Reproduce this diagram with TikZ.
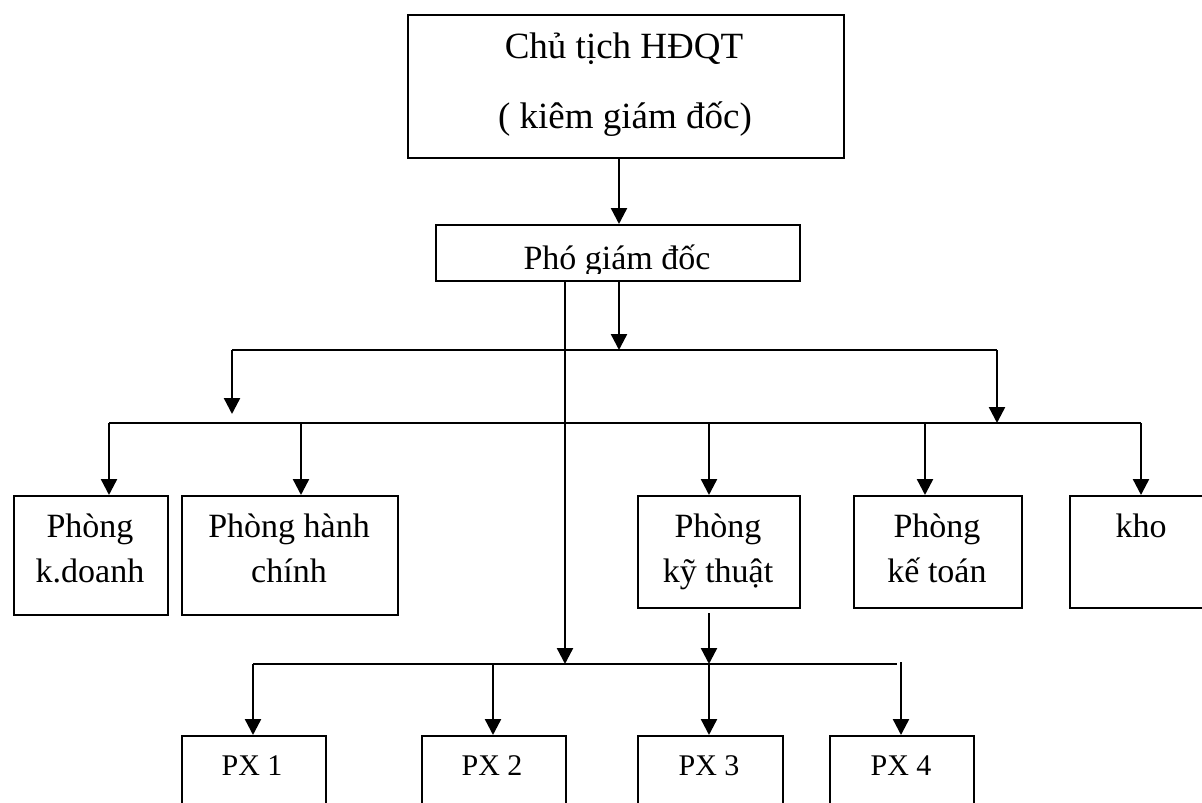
\documentclass[tikz,border=0pt]{standalone}
\usepackage{fontspec}
\setmainfont{Liberation Serif}
\usetikzlibrary{arrows.meta}
\begin{document}
\begin{tikzpicture}[x=1pt,y=-1pt,
  box/.style={draw, line width=2.4pt, anchor=north west, inner sep=0pt},
  lbl/.style={anchor=base, inner sep=0pt, font=\fontsize{34}{40}\selectfont},
  big/.style={anchor=base, inner sep=0pt, font=\fontsize{37}{44}\selectfont},
  small/.style={anchor=base, inner sep=0pt, font=\fontsize{30}{36}\selectfont},
  line/.style={line width=2.4pt},
  arr/.style={line width=2.4pt, -{Triangle[length=16pt,width=16pt]}}]
\useasboundingbox (0,0) rectangle (1202,803);
\clip (0,0) rectangle (1202,803);

% ---------- boxes ----------
\node[box, minimum width=436pt, minimum height=143pt] (chu) at (407,14) {};
\node[box, minimum width=364pt, minimum height=56pt] (pho) at (435,224) {};
\node[box, minimum width=154pt, minimum height=119pt] (kd) at (13,495) {};
\node[box, minimum width=216pt, minimum height=119pt] (hc) at (181,495) {};
\node[box, minimum width=162pt, minimum height=112pt] (kt) at (637,495) {};
\node[box, minimum width=168pt, minimum height=112pt] (kto) at (853,495) {};
\node[box, minimum width=150pt, minimum height=112pt] (kho) at (1069,495) {};
\node[box, minimum width=144pt, minimum height=100pt] (px1) at (181,735) {};
\node[box, minimum width=144pt, minimum height=100pt] (px2) at (421,735) {};
\node[box, minimum width=145pt, minimum height=100pt] (px3) at (637,735) {};
\node[box, minimum width=144pt, minimum height=100pt] (px4) at (829,735) {};

% ---------- texts ----------
\node[big] (tchu1) at (624,58) {Chủ tịch HĐQT};
\node[big] (tchu2) at (625,128) {( kiêm giám đốc)};
\begin{scope}
  % the text frame cuts off the descenders of this line
  \clip (437,226) rectangle (797,273);
  \node[lbl] (tpho) at (617,269) {Phó giám đốc};
\end{scope}
\node[lbl] (tkd1) at (90,537) {Phòng};
\node[lbl] (tkd2) at (90,582) {k.doanh};
\node[lbl] (thc1) at (289,537) {Phòng hành};
\node[lbl] (thc2) at (289,582) {chính};
\node[lbl] (tkt1) at (718,537) {Phòng};
\node[lbl] (tkt2) at (718,582) {kỹ thuật};
\node[lbl] (tkto1) at (937,537) {Phòng};
\node[lbl] (tkto2) at (937,582) {kế toán};
\node[lbl] (tkho) at (1141,537) {kho};
\node[small] (tpx1) at (252,775) {PX 1};
\node[small] (tpx2) at (492,775) {PX 2};
\node[small] (tpx3) at (709,775) {PX 3};
\node[small] (tpx4) at (901,775) {PX 4};

% ---------- junction points ----------
\coordinate (b1L) at (232,350);
\coordinate (b1R) at (997,350);
\coordinate (b1M) at (619,350);
\coordinate (b2L) at (109,423);
\coordinate (b2R) at (1141,423);
\coordinate (b1Ld) at (232,414);
\coordinate (b3L) at (253,664);
\coordinate (b3R) at (897,664);
\coordinate (b3a) at (565,664);
\coordinate (b3b) at (709,664);
\coordinate (c493) at (493,664);
\coordinate (c901) at (901,662);
\coordinate (c301) at (301,423);
\coordinate (c709) at (709,423);
\coordinate (c925) at (925,423);
\coordinate (ktout) at (709,613);

% ---------- connectors ----------
\draw[arr] (b1M |- chu.south) -- (b1M |- pho.north);
\draw[arr] (b1M |- pho.south) -- (b1M);
\draw[line] (b1L) -- (b1R);
\draw[arr] (b1L) -- (b1Ld);
\draw[arr] (b1R) -- (b1R |- b2R);
\draw[line] (b2L) -- (b2R);
\draw[arr] (b2L) -- (b2L |- kd.north);
\draw[arr] (c301) -- (c301 |- hc.north);
\draw[arr] (c709) -- (c709 |- kt.north);
\draw[arr] (c925) -- (c925 |- kto.north);
\draw[arr] (b2R) -- (b2R |- kho.north);

\draw[arr] (b3a |- pho.south) -- (b3a);
\draw[arr] (ktout) -- (b3b);
\draw[line] (b3L) -- (b3R);
\draw[arr] (b3L) -- (b3L |- px1.north);
\draw[arr] (c493) -- (c493 |- px2.north);
\draw[arr] (b3b) -- (b3b |- px3.north);
\draw[arr] (c901) -- (c901 |- px4.north);
\end{tikzpicture}
\end{document}
